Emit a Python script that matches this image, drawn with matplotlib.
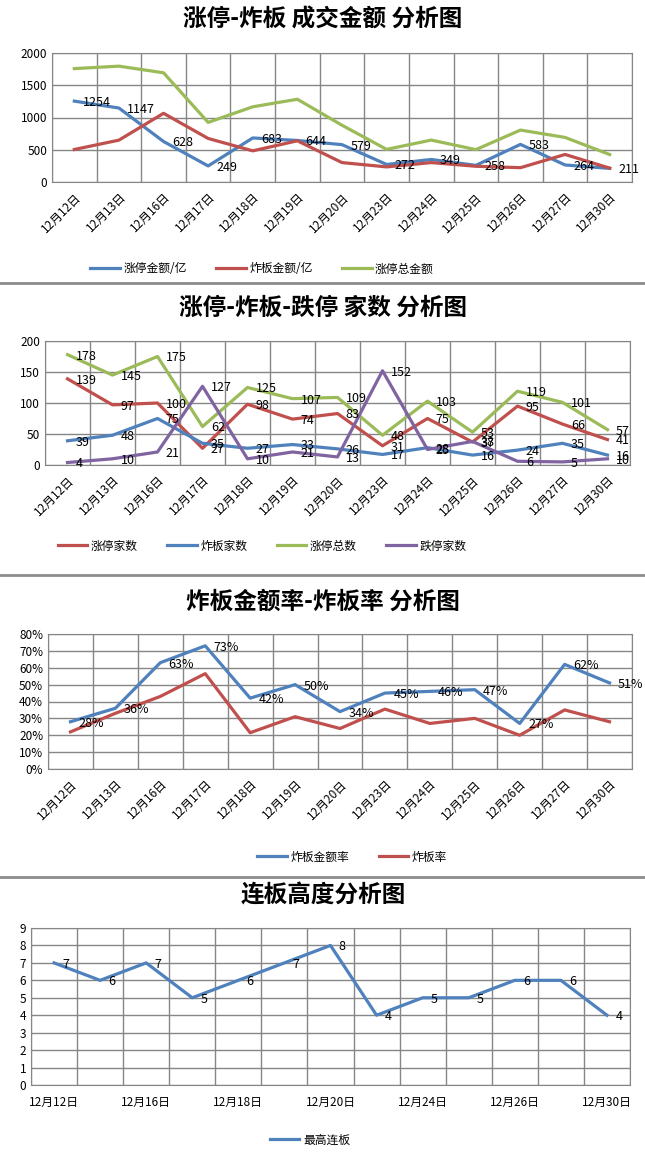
import matplotlib
matplotlib.use('Agg')
import matplotlib.pyplot as plt
from matplotlib.ticker import FixedLocator, PercentFormatter

plt.rcParams['font.family'] = ['Noto Sans CJK SC', 'DejaVu Sans']

# data
dates = ['12月12日', '12月13日', '12月16日', '12月17日', '12月18日', '12月19日', '12月20日',
         '12月23日', '12月24日', '12月25日', '12月26日', '12月27日', '12月30日']

zt_amount = [1254, 1147, 628, 249, 683, 644, 579, 272, 349, 258, 583, 264, 211]
zb_amount = [504, 649, 1065, 675, 483, 639, 301, 234, 301, 244, 222, 427, 215]
zt_total_amount = [1758, 1796, 1693, 924, 1166, 1283, 880, 506, 650, 502, 805, 691, 426]

zt_count = [139, 97, 100, 27, 98, 74, 83, 31, 75, 37, 95, 66, 41]
zb_count = [39, 48, 75, 35, 27, 33, 26, 17, 28, 16, 24, 35, 16]
zt_total = [178, 145, 175, 62, 125, 107, 109, 48, 103, 53, 119, 101, 57]
dt_count = [4, 10, 21, 127, 10, 21, 13, 152, 25, 38, 6, 5, 10]

zb_amount_rate = [0.28, 0.36, 0.63, 0.73, 0.42, 0.50, 0.34, 0.45, 0.46, 0.47, 0.27, 0.62, 0.51]
zb_rate = [0.22, 0.33, 0.43, 0.565, 0.215, 0.31, 0.24, 0.355, 0.27, 0.30, 0.20, 0.35, 0.28]

max_board = [7, 6, 7, 5, 6, 7, 8, 4, 5, 5, 6, 6, 4]

BLUE = '#4F81BD'
RED = '#C0504D'
GREEN = '#9BBB59'
PURPLE = '#8064A2'
GRID = '#868686'

W, H = 645, 1161
fig = plt.figure(figsize=(W / 100, H / 100), dpi=100)
x = list(range(len(dates)))


def make_ax(x0, y0, x1, y1):
    return fig.add_axes([x0 / W, 1 - y1 / H, (x1 - x0) / W, (y1 - y0) / H])


def style_ax(ax, yticks, rotate=True, step=1):
    ax.set_xlim(-0.5, len(dates) - 0.5)
    ax.set_ylim(yticks[0], yticks[-1])
    ax.set_yticks(yticks)
    ax.xaxis.set_minor_locator(FixedLocator([i - 0.5 for i in range(len(dates) + 1)]))
    ax.set_xticks(x[::step])
    if rotate:
        ax.set_xticklabels(dates[::step], rotation=45, ha='right', va='top',
                           rotation_mode='anchor', fontsize=7.5)
    else:
        ax.set_xticklabels(dates[::step], fontsize=7.5)
    ax.grid(True, which='minor', axis='x', color=GRID, lw=1)
    ax.grid(True, which='major', axis='y', color=GRID, lw=1)
    ax.tick_params(axis='both', which='both', length=0, labelsize=8.5)
    ax.tick_params(axis='x', pad=6)
    for s in ax.spines.values():
        s.set_color(GRID)
    ax.set_axisbelow(True)


def labels(ax, vals, fmt='{}'):
    for i, v in enumerate(vals):
        ax.annotate(fmt.format(v), (i, v), xytext=(6, -1), textcoords='offset points',
                    ha='left', va='center', fontsize=9)


def title(text, y):
    fig.text(323 / W, 1 - y / H, text, ha='center', va='center',
             fontsize=17, fontweight='bold')


def legend(ax, cx, cy, ncol):
    ax.legend(loc='center', bbox_to_anchor=(cx / W, 1 - cy / H), bbox_transform=fig.transFigure,
              ncol=ncol, frameon=False, fontsize=8.5, handlelength=2.5, columnspacing=2.5,
              handletextpad=0.3)


# separators
for yy in [283, 575, 877]:
    fig.add_artist(plt.Line2D([0, 1], [1 - yy / H, 1 - yy / H], color='#8C8C8C', lw=2))

# panel 1
title('涨停-炸板 成交金额 分析图', 20)
ax1 = make_ax(52, 53, 632, 182)
ax1.plot(x, zt_amount, color=BLUE, lw=2.3, label='涨停金额/亿')
ax1.plot(x, zb_amount, color=RED, lw=2.3, label='炸板金额/亿')
ax1.plot(x, zt_total_amount, color=GREEN, lw=2.3, label='涨停总金额')
labels(ax1, zt_amount)
style_ax(ax1, [0, 500, 1000, 1500, 2000])
legend(ax1, 262, 269, 3)

# panel 2
title('涨停-炸板-跌停 家数 分析图', 308)
ax2 = make_ax(45, 341, 630, 465)
ax2.plot(x, zt_count, color=RED, lw=2.3, label='涨停家数')
ax2.plot(x, zb_count, color=BLUE, lw=2.3, label='炸板家数')
ax2.plot(x, zt_total, color=GREEN, lw=2.3, label='涨停总数')
ax2.plot(x, dt_count, color=PURPLE, lw=2.3, label='跌停家数')
for s in [zt_count, zb_count, zt_total, dt_count]:
    labels(ax2, s)
style_ax(ax2, [0, 50, 100, 150, 200])
legend(ax2, 262, 546, 4)

# panel 3
title('炸板金额率-炸板率 分析图', 602)
ax3 = make_ax(48, 634, 632, 769)
ax3.plot(x, zb_amount_rate, color=BLUE, lw=2.3, label='炸板金额率')
ax3.plot(x, zb_rate, color=RED, lw=2.3, label='炸板率')
for i, v in enumerate(zb_amount_rate):
    ax3.annotate('{:.0f}%'.format(v * 100), (i, v), xytext=(6, -1), textcoords='offset points',
                 ha='left', va='center', fontsize=9)
style_ax(ax3, [i / 10 for i in range(9)])
ax3.yaxis.set_major_formatter(PercentFormatter(1.0, decimals=0))
legend(ax3, 352, 857, 2)

# panel 4
title('连板高度分析图', 895)
ax4 = make_ax(31, 928, 630, 1085)
ax4.plot(x, max_board, color=BLUE, lw=2.3, label='最高连板')
labels(ax4, max_board)
style_ax(ax4, list(range(10)), rotate=False, step=2)
ax4.tick_params(axis='x', pad=8)
legend(ax4, 310, 1140, 1)

fig.savefig('out.png', dpi=100)
